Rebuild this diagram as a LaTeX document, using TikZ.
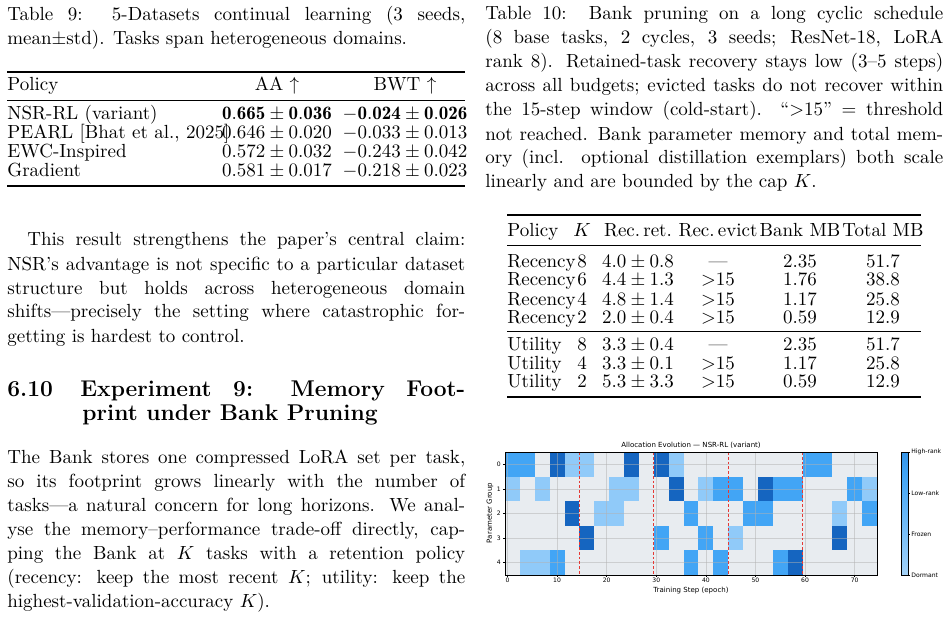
\documentclass[tikz,border=0pt]{standalone}
\usepackage{fontspec}
\usepackage{amssymb}
\usetikzlibrary{positioning}
\newfontfamily\figfont{DejaVu Sans}
\definecolor{cellD}{HTML}{E8ECF0}
\definecolor{cellF}{HTML}{90CAF9}
\definecolor{cellM}{HTML}{42A5F5}
\definecolor{cellH}{HTML}{1565C0}
\definecolor{cutred}{HTML}{E53935}
\pgfdeclareverticalshading{cbar}{100bp}{color(0bp)=(cellD); color(33bp)=(cellF); color(66bp)=(cellM); color(100bp)=(cellH)}

\begin{document}
\begin{tikzpicture}[x=0.5263pt,y=-0.5263pt,
    txt/.style={anchor=base west,inner sep=0pt},
    ctr/.style={anchor=base,inner sep=0pt},
    figtxt/.style={inner sep=0pt,font=\figfont\fontsize{3.7}{4.2}\selectfont},
    ticktxt/.style={inner sep=0pt,font=\figfont\fontsize{3.2}{3.6}\selectfont},
    toprule/.style={line width=0.8pt},
    midrule/.style={line width=0.45pt}]
  \useasboundingbox (0,0) rectangle (951,620);

  % table 9 caption
  \node[txt] (c9a) at (7,21)  {\hbox to 241pt{Table 9:\ \ 5-Datasets continual learning (3 seeds,}};
  \node[txt] (c9b) at (7,45)  {mean$\pm$std). Tasks span heterogeneous domains.};

  % table 9
  \draw[toprule] (7,72) -- (465,72);
  \draw[midrule] (7,100) -- (465,100);
  \draw[toprule] (7,186) -- (465,186);
  \node[txt] (h9a) at (7,91) {Policy};
  \node[ctr] (h9b) at (277,91) {AA $\uparrow$};
  \node[ctr] (h9c) at (405,91) {BWT $\uparrow$};
  \node[txt] (t9n0) at (7,120) {NSR-RL (variant)};
  \node[ctr] (t9a0) at (277,120) {$\mathbf{0.665}\pm\mathbf{0.036}$};
  \node[ctr] (t9b0) at (405,120) {$-\mathbf{0.024}\pm\mathbf{0.026}$};
  \node[txt] (t9n1) at (7,138.7) {PEARL [Bhat et al., 2025]};
  \node[ctr] (t9a1) at (277,138.7) {$0.646\pm0.020$};
  \node[ctr] (t9b1) at (405,138.7) {$-0.033\pm0.013$};
  \node[txt] (t9n2) at (7,157.4) {EWC-Inspired};
  \node[ctr] (t9a2) at (277,157.4) {$0.572\pm0.032$};
  \node[ctr] (t9b2) at (405,157.4) {$-0.243\pm0.042$};
  \node[txt] (t9n3) at (7,176.1) {Gradient};
  \node[ctr] (t9a3) at (277,176.1) {$0.581\pm0.017$};
  \node[ctr] (t9b3) at (405,176.1) {$-0.218\pm0.023$};

  % left column text
  \node[txt] (pa1) at (27,246)  {\hbox to 230.5pt{This result strengthens the paper's central claim:}};
  \node[txt] (pa2) at (7,270)   {\hbox to 241pt{NSR's advantage is not specific to a particular dataset}};
  \node[txt] (pa3) at (7,294)   {\hbox to 241pt{structure but holds across heterogeneous domain}};
  \node[txt] (pa4) at (7,318)   {\hbox to 241pt{shifts---precisely the setting where catastrophic for-}};
  \node[txt] (pa5) at (7,342)   {getting is hardest to control.};

  \node[txt,font=\large\bfseries] (sec) at (7,396) {\hbox to 241pt{6.10\hskip 1.2em Experiment 9: Memory Foot-}};
  \node[txt,font=\large\bfseries] (secb) at (82,420) {print under Bank Pruning};

  \node[txt] (pb1) at (7,463) {\hbox to 241pt{The Bank stores one compressed LoRA set per task,}};
  \node[txt] (pb2) at (7,487) {\hbox to 241pt{so its footprint grows linearly with the number of}};
  \node[txt] (pb3) at (7,511) {\hbox to 241pt{tasks---a natural concern for long horizons. We anal-}};
  \node[txt] (pb4) at (7,535) {\hbox to 241pt{yse the memory--performance trade-off directly, cap-}};
  \node[txt] (pb5) at (7,559) {\hbox to 241pt{ping the Bank at $K$ tasks with a retention policy}};
  \node[txt] (pb6) at (7,583) {\hbox to 241pt{(recency: keep the most recent $K$; utility: keep the}};
  \node[txt] (pb7) at (7,607) {highest-validation-accuracy $K$).};

  % table 10 caption
  \node[txt] (c10a) at (485,20)  {\hbox to 241pt{Table 10:\ \ Bank pruning on a long cyclic schedule}};
  \node[txt] (c10b) at (485,44)  {\hbox to 241pt{(8 base tasks, 2 cycles, 3 seeds; ResNet-18, LoRA}};
  \node[txt] (c10c) at (485,68)  {\hbox to 241pt{rank 8). Retained-task recovery stays low (3--5 steps)}};
  \node[txt] (c10d) at (485,92)  {\hbox to 241pt{across all budgets; evicted tasks do not recover within}};
  \node[txt] (c10e) at (485,116) {\hbox to 241pt{the 15-step window (cold-start). ``$>$15'' $=$ threshold}};
  \node[txt] (c10f) at (485,140) {\hbox to 241pt{not reached. Bank parameter memory and total mem-}};
  \node[txt] (c10g) at (485,164) {\hbox to 241pt{ory (incl. optional distillation exemplars) both scale}};
  \node[txt] (c10h) at (485,188) {linearly and are bounded by the cap $K$.};

  % table 10
  \draw[toprule] (507,215) -- (921,215);
  \draw[midrule] (507,245) -- (921,245);
  \draw[midrule] (507,331) -- (921,331);
  \draw[toprule] (507,397) -- (921,397);
  \node[txt] (h10a) at (507,236) {Policy};
  \node[ctr] (h10b) at (582,236) {$K$};
  \node[ctr] (h10c) at (638,236) {Rec.\,ret.};
  \node[ctr] (h10d) at (718,236) {Rec.\,evict};
  \node[ctr] (h10e) at (800,236) {Bank MB};
  \node[ctr] (h10f) at (883,236) {Total MB};
  \foreach \ry/\rpol/\rk/\rret/\revi/\rbank/\rtot [count=\i] in {
      267/Recency/8/{4.0\pm0.8}/{---}/2.35/51.7,
      286/Recency/6/{4.4\pm1.3}/{$>$15}/1.76/38.8,
      305/Recency/4/{4.8\pm1.4}/{$>$15}/1.17/25.8,
      324/Recency/2/{2.0\pm0.4}/{$>$15}/0.59/12.9,
      350/Utility/8/{3.3\pm0.4}/{---}/2.35/51.7,
      369/Utility/4/{3.3\pm0.1}/{$>$15}/1.17/25.8,
      388/Utility/2/{5.3\pm3.3}/{$>$15}/0.59/12.9} {
    \node[txt] (r\i a) at (507,\ry) {\rpol};
    \node[ctr] (r\i b) at (582,\ry) {\rk};
    \node[ctr] (r\i c) at (638,\ry) {$\rret$};
    \node[ctr] (r\i d) at (718,\ry) {\revi};
    \node[ctr] (r\i e) at (800,\ry) {\rbank};
    \node[ctr] (r\i f) at (883,\ry) {\rtot};
  }

  % heatmap: 25 columns of 3 steps, 5 groups
  \foreach \r/\vals in {
      0/{M,M,D,H,F,F,D,D,H,D,H,F,D,D,D,D,D,D,D,D,M,M,D,D,D},
      1/{F,D,F,D,D,D,D,F,F,D,D,H,D,F,M,M,D,H,M,M,D,D,D,M,F},
      2/{D,D,D,D,H,D,F,F,D,D,D,D,M,D,D,D,M,M,D,D,D,D,F,D,M},
      3/{D,D,D,D,D,H,D,D,D,D,M,D,D,M,D,F,D,D,D,D,D,D,H,D,D},
      4/{D,F,F,M,D,D,D,D,D,D,D,D,M,D,M,D,D,D,M,H,D,D,D,D,D}} {
    \foreach \v [count=\c from 0] in \vals
      \fill[cell\v] ({505+14.88*\c},{452+24.6*\r}) rectangle ++(14.88,24.6);
  }
  \foreach \t in {0,10,...,70} {
    \draw[gray!60,opacity=0.5,line width=0.3pt] ({505+4.96*(\t+0.5)},452) -- ++(0,123);
    \draw[line width=0.3pt] ({505+4.96*(\t+0.5)},575) -- ++(0,2);
    \node[ticktxt,anchor=north] (xt\t) at ({505+4.96*(\t+0.5)},578) {\t};
  }
  \foreach \g in {0,...,4} {
    \draw[gray!60,opacity=0.5,line width=0.3pt] (505,{464.3+24.6*\g}) -- ++(372,0);
    \draw[line width=0.3pt] (505,{464.3+24.6*\g}) -- ++(-2,0);
    \node[ticktxt,anchor=east] (yt\g) at (501,{464.3+24.6*\g}) {\g};
  }
  \foreach \t in {14.5,29.5,44.5,59.5}
    \draw[cutred,line width=0.45pt,dash pattern=on 1.5pt off 1pt] ({505+4.96*(\t+0.5)},452) -- ++(0,123);
  \draw[line width=0.5pt] (505,452) rectangle (877,575);
  \node[figtxt] (ttl) at (691,445) {Allocation Evolution — NSR-RL (variant)};
  \node[figtxt] (xlab) at (691,591) {Training Step (epoch)};
  \node[figtxt,rotate=90] (ylab) at (490,513) {Parameter Group};

  % colour bar
  \shade[shading=cbar] (901,452) rectangle (908,575);
  \draw[line width=0.4pt] (901,452) rectangle (908,575);
  \foreach \lab [count=\k from 0] in {High-rank,Low-rank,Frozen,Dormant} {
    \draw[line width=0.3pt] (908,{452+41*\k}) -- ++(2,0);
    \node[ticktxt,anchor=west] (cb\k) at (911,{452+41*\k}) {\lab};
  }
\end{tikzpicture}
\end{document}
